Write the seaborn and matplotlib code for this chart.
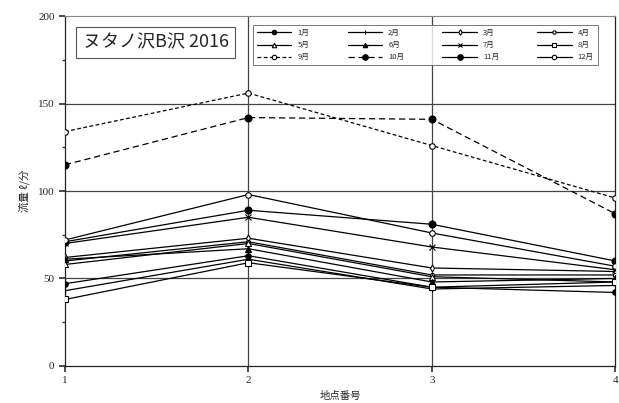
import matplotlib
matplotlib.use("Agg")
import matplotlib.pyplot as plt
from matplotlib.ticker import MultipleLocator
import seaborn as sns
import pandas as pd

sns.set_theme(style="white")
plt.rcParams["font.family"] = ["Noto Sans CJK JP", "DejaVu Sans"]

# Flow measurements (l/min) at each survey point, per month
points = [1, 2, 3, 4]
months = ["1月", "2月", "3月", "4月", "5月", "6月",
          "7月", "8月", "9月", "10月", "11月", "12月"]
jan = [47, 63, 45, 42]
feb = [43, 61, 44, 46]
mar = [62, 73, 56, 54]
apr = [60, 71, 52, 52]
may = [58, 70, 51, 48]
jun = [61, 67, 48, 50]
jul = [70, 85, 68, 55]
aug = [38, 59, 45, 48]
sep = [134, 156, 126, 96]
oct_ = [115, 142, 141, 87]
nov = [71, 89, 81, 60]
dec = [72, 98, 76, 57]
series = [jan, feb, mar, apr, may, jun, jul, aug, sep, oct_, nov, dec]

title_text = "ヌタノ沢B沢 2016"
x_label = "地点番号"
y_label = "流量 ℓ/分"
y_ticks = [0, 50, 100, 150, 200]

rows = []
for m, vals in zip(months, series):
    for p, v in zip(points, vals):
        rows.append({"point": p, "flow": v, "month": m})
df = pd.DataFrame(rows)

# marker / line style for each month
styles = {
    "1月": dict(marker="o", mfc="black", ms=4, ls="-"),
    "2月": dict(marker="|", mfc="black", ms=4, ls="-"),
    "3月": dict(marker="d", mfc="white", ms=3.5, ls="-"),
    "4月": dict(marker="o", mfc="white", ms=3, ls="-"),
    "5月": dict(marker="^", mfc="white", ms=4, ls="-"),
    "6月": dict(marker="^", mfc="black", ms=4, ls="-"),
    "7月": dict(marker="x", mfc="black", ms=4, ls="-"),
    "8月": dict(marker="s", mfc="white", ms=4, ls="-"),
    "9月": dict(marker="o", mfc="white", ms=4, ls=(0, (3, 2))),
    "10月": dict(marker="o", mfc="black", ms=5, ls=(0, (5, 3))),
    "11月": dict(marker="o", mfc="black", ms=5, ls="-"),
    "12月": dict(marker="o", mfc="white", ms=4, ls="-"),
}

fig = plt.figure(figsize=(6.19, 4.03), dpi=100)
ax = fig.add_axes([0.105, 0.092, 0.889, 0.868])

for m in months:
    st = styles[m]
    sns.lineplot(data=df[df["month"] == m], x="point", y="flow", ax=ax,
                 color="black", lw=0.9, linestyle=st["ls"], marker=st["marker"],
                 markersize=st["ms"], markerfacecolor=st["mfc"],
                 markeredgecolor="black", markeredgewidth=0.8,
                 label=m, zorder=3)

ax.set_xlim(1, 4)
ax.set_ylim(0, 200)
ax.set_xticks(points)
ax.set_yticks(y_ticks)
ax.yaxis.set_minor_locator(MultipleLocator(25))
ax.tick_params(axis="both", which="major", labelsize=8, length=4,
               direction="out", color="#333333", left=True, bottom=True)
ax.tick_params(axis="y", which="minor", length=2, left=True, color="#333333")
for lbl in ax.get_xticklabels() + ax.get_yticklabels():
    lbl.set_family(["Liberation Serif", "DejaVu Serif"])

for y in [50, 100, 150]:
    ax.axhline(y, color="#444444", lw=0.9, zorder=1)
for x in [2, 3]:
    ax.axvline(x, color="#444444", lw=0.9, zorder=1)

for side in ["left", "bottom", "right"]:
    ax.spines[side].set_color("#222222")
    ax.spines[side].set_linewidth(0.9)
ax.spines["top"].set_color("#888888")
ax.spines["top"].set_linewidth(0.8)
ax.spines["top"].set_linestyle((0, (2, 1)))

ax.set_xlabel(x_label, fontsize=7.5, labelpad=4)
ax.set_ylabel(y_label, fontsize=7.5, labelpad=6)

ax.text(0.032, 0.925, title_text, transform=ax.transAxes, fontsize=13,
        va="center", ha="left", zorder=5,
        bbox=dict(boxstyle="square,pad=0.35", fc="white", ec="#555555", lw=0.8))

# legend filled row by row: 1月-4月 / 5月-8月 / 9月-12月
handles, labels = ax.get_legend_handles_labels()
order = [r * 4 + c for c in range(4) for r in range(3)]
leg = ax.legend([handles[i] for i in order], [labels[i] for i in order],
                ncol=4, loc="upper right", bbox_to_anchor=(0.975, 0.985),
                fontsize=5.5, handlelength=4.5, columnspacing=5,
                markerscale=0.8, frameon=True, fancybox=False,
                edgecolor="#555555", borderpad=0.5, labelspacing=0.55)
leg.get_frame().set_linewidth(0.7)

fig.savefig("out.png", dpi=100, facecolor="white")
